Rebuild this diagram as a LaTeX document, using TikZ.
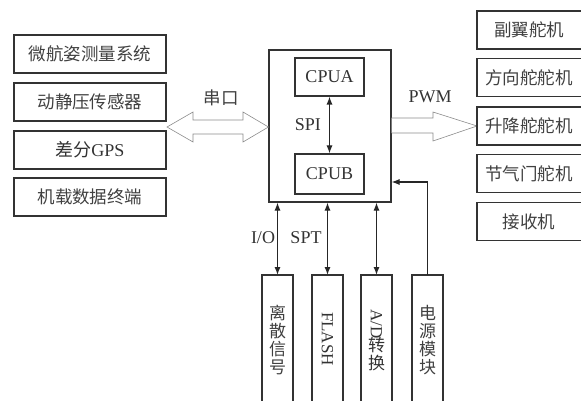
\documentclass[tikz,border=0pt]{standalone}
\usepackage{fontspec}
\setmainfont{Liberation Serif}
\newfontfamily\cjk{Noto Sans CJK SC}
\usetikzlibrary{arrows.meta}
\begin{document}
\begin{tikzpicture}[x=1pt,y=-1pt,
  box/.style={draw=black!80,line width=1.1pt,inner sep=0pt},
  lbl/.style={font=\fontsize{18}{19}\selectfont,text=black!80},
  clbl/.style={font=\fontsize{17.5}{19}\selectfont\cjk,text=black!75},
  conn/.style={line width=1.1pt,draw=black!85},
  tip/.style={{Latex[length=8pt,width=6pt]}-{Latex[length=8pt,width=6pt]}},
  fat/.style={draw=black!45,line width=0.6pt,fill=white},
  vtext/.style={font=\fontsize{17}{18}\selectfont,align=center,inner sep=0pt,text=black!80},
  cvtext/.style={font=\fontsize{17}{18}\selectfont\cjk,align=center,inner sep=0pt,text=black!75}]
\useasboundingbox (0,0) rectangle (581,401);
% left boxes
\node[box,minimum width=152pt,minimum height=38pt,clbl] (l1) at (90,54) {微航姿测量系统};
\node[box,minimum width=152pt,minimum height=38pt,clbl] (l2) at (90,102) {动静压传感器};
\node[box,minimum width=152pt,minimum height=38pt,lbl] (l3) at (90,150) {{\cjk 差分}GPS};
\node[box,minimum width=152pt,minimum height=38pt,clbl] (l4) at (90,197) {机载数据终端};
% main box
\node[box,minimum width=122pt,minimum height=152pt] (main) at (330,126) {};
\node[box,minimum width=69pt,minimum height=38pt,lbl] (cpua) at (329.5,77) {CPUA};
\node[box,minimum width=69pt,minimum height=40pt,lbl] (cpub) at (329.5,174) {CPUB};
\draw[conn,tip] (cpua.south) -- (cpub.north) node[midway,left=8pt,lbl,inner sep=0pt] (spi) {SPI};
% serial double arrow
\coordinate (sl) at (167,127);
\coordinate (sr) at (main.west |- 0,127);
\draw[fat] (sl) -- ++(26,-15) -- ++(0,8) -- (243,120) -- ++(0,-8) -- (sr) -- (243,142) -- ++(0,-8) -- (193,134) -- ++(0,8) -- cycle;
\node[clbl,inner sep=0pt] (sk) at (221,98) {串口};
% PWM arrow
\coordinate (pl) at (main.east |- 0,118);
\coordinate (ptip) at (477,126);
\draw[fat] (pl) -- (433,118) -- (433,112) -- (ptip) -- (433,141) -- (433,133) -- (main.east |- 0,133);
\node[lbl,inner sep=0pt] (pwm) at (430,97) {PWM};
% right boxes (cut at right edge)
\foreach \n/\t/\y in {r1/副翼舵机/30, r2/方向舵舵机/77.5, r3/升降舵舵机/126, r4/节气门舵机/173.5, r5/接收机/221.5}{
  \node[clbl,inner sep=0pt] (\n) at (529,\y) {\t};
  \draw[box] (590,\y-19) -- (477,\y-19) -- (477,\y+19) -- (590,\y+19);
}
% bottom boxes (open at bottom)
\foreach \n/\x in {b1/277.5, b2/327.5, b3/376.5, b4/427.5}{
  \coordinate (\n) at (\x,275);
  \draw[box] (\x-15.5,410) -- (\x-15.5,275) -- (\x+15.5,275) -- (\x+15.5,410);
}
\node[cvtext] (t1) at (277.5,340) {离\\散\\信\\号};
\node[vtext,rotate=-90] (t2) at (327.5,339) {FLASH};
\node[vtext] (t3) at (376.5,340) {\rotatebox{-90}{A/D}\\[-2pt]\cjk 转\\\cjk 换};
\node[cvtext] (t4) at (427.5,340) {电\\源\\模\\块};
% bottom connectors
\draw[conn,tip] (main.south -| b1) -- (b1);
\draw[conn,tip] (main.south -| b2) -- (b2);
\draw[conn,tip] (main.south -| b3) -- (b3);
\draw[conn,-{Latex[length=8pt,width=6pt]}] (b4) |- (main.east |- 0,182);
\node[lbl,inner sep=0pt] (io) at (263,238) {I/O};
\node[lbl,inner sep=0pt] (spt) at (306,238) {SPT};
\end{tikzpicture}
\end{document}
